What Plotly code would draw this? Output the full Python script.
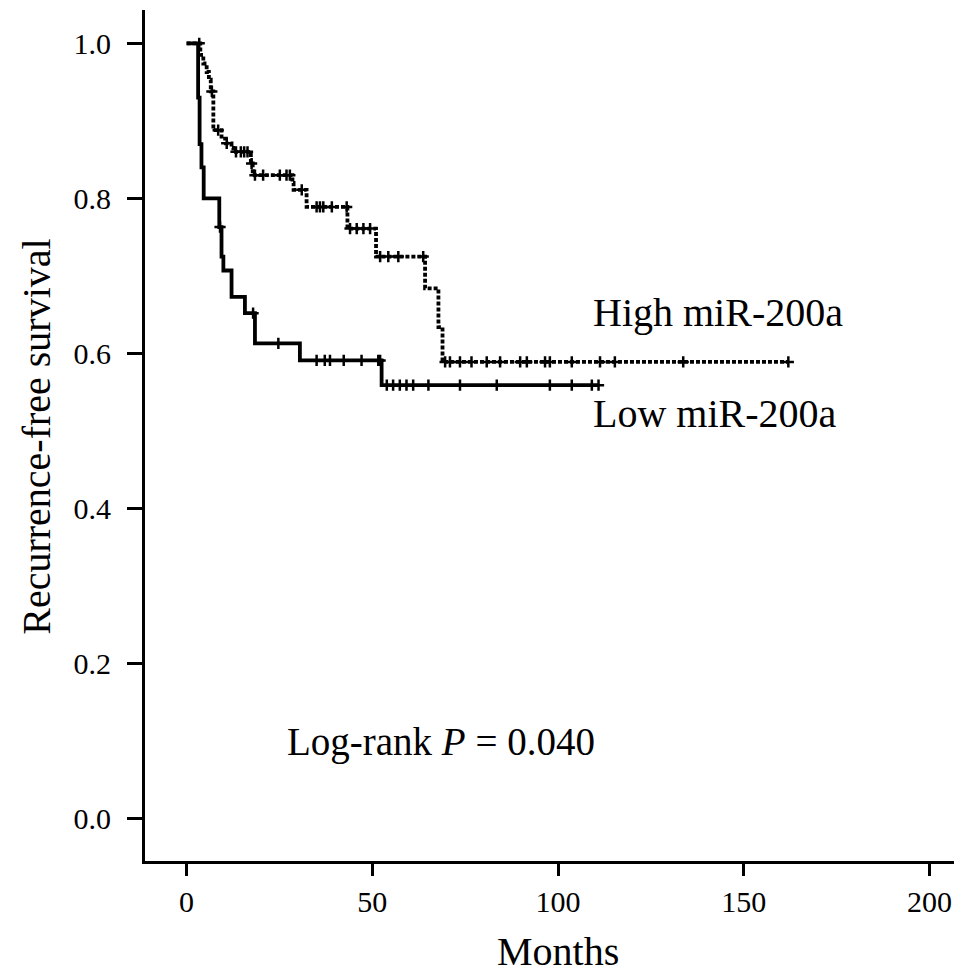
import plotly.graph_objects as go

# ---- data (months, survival) ----
low_event_times = [3.1, 3.5, 4.0, 4.6, 8.8, 9.4, 9.9, 12.1, 15.7, 18.4, 30.5, 52.5]
low_event_surv = [0.93, 0.87, 0.84, 0.80, 0.763, 0.725, 0.707, 0.673, 0.652, 0.613, 0.591, 0.559]
low_censor_times = [9.0, 17.9, 24.7, 35.0, 37.2, 38.6, 42.3, 47.1, 51.6, 52.1, 53.9, 55.6,
                    57.4, 59.2, 61.0, 65.1, 73.6, 83.5, 97.8, 103.7, 109.1, 110.9]

high_event_times = [3.7, 4.5, 5.4, 6.0, 6.5, 7.2, 9.4, 10.6, 12.1, 12.6, 17.3, 17.8, 28.5, 28.8,
                    32.3, 43.3, 51.0, 64.2, 67.8, 68.9]
high_event_surv = [0.985, 0.974, 0.963, 0.953, 0.938, 0.888, 0.877, 0.871, 0.865, 0.860, 0.845,
                   0.830, 0.820, 0.811, 0.789, 0.761, 0.725, 0.684, 0.634, 0.589]
high_censor_times = [3.4, 6.8, 8.5, 10.8, 13.3, 14.6, 15.5, 16.4, 17.5, 18.4, 20.6, 25.1, 26.9,
                     27.8, 31.0, 35.0, 35.9, 36.8, 39.1, 43.1, 44.0, 45.8, 47.6, 49.4, 52.1, 54.3,
                     57.0, 63.7, 69.6, 70.9, 73.6, 76.7, 80.8, 84.4, 89.8, 91.6, 96.5, 97.8, 103.7,
                     111.3, 115.3, 133.7, 162.0]

x_ticks = [0, 50, 100, 150, 200]
y_ticks = [0.0, 0.2, 0.4, 0.6, 0.8, 1.0]

FONT = "Liberation Serif"


def step_path(times, surv, end):
    xs = [0] + list(times) + [end]
    ys = [1.0] + list(surv) + [surv[-1]]
    return xs, ys


def surv_at(t, times, surv):
    s = 1.0
    for tt, ss in zip(times, surv):
        if tt <= t:
            s = ss
    return s


fig = go.Figure()

for times, surv, cens, dash in [
    (high_event_times, high_event_surv, high_censor_times, "4px,2px"),
    (low_event_times, low_event_surv, low_censor_times, "solid"),
]:
    xs, ys = step_path(times, surv, max(cens))
    fig.add_trace(go.Scatter(x=xs, y=ys, mode="lines", line_shape="hv",
                             line=dict(color="black", width=3.8, dash=dash),
                             showlegend=False, hoverinfo="skip"))
    fig.add_trace(go.Scatter(x=cens, y=[surv_at(t, times, surv) for t in cens], mode="markers",
                             marker=dict(symbol="cross-thin-open", size=8, color="black",
                                         line=dict(color="black", width=2.5)),
                             showlegend=False, hoverinfo="skip"))

fig.add_annotation(x=108.8, y=0.653, xref="x", yref="y", text="High miR-200a", showarrow=False,
                   xanchor="left", yanchor="middle", font=dict(family=FONT, size=40, color="black"))
fig.add_annotation(x=108.8, y=0.522, xref="x", yref="y", text="Low miR-200a", showarrow=False,
                   xanchor="left", yanchor="middle", font=dict(family=FONT, size=40, color="black"))
fig.add_annotation(x=26.5, y=0.099, xref="x", yref="y", text="Log-rank <i>P</i> = 0.040",
                   showarrow=False, xanchor="left", yanchor="middle",
                   font=dict(family=FONT, size=39, color="black"))
# axis titles
fig.add_annotation(x=100, y=-0.106, xref="x", yref="paper", text="Months", showarrow=False,
                   xanchor="center", yanchor="middle", font=dict(family=FONT, size=40, color="black"))
fig.add_annotation(x=-0.134, y=0.492, xref="paper", yref="y", text="Recurrence-free survival",
                   showarrow=False, textangle=-90, xanchor="center", yanchor="middle",
                   font=dict(family=FONT, size=40, color="black"))

fig.update_layout(
    width=969, height=978, autosize=False,
    margin=dict(l=145, r=15, t=10, b=117),
    paper_bgcolor="white", plot_bgcolor="white",
    font=dict(family=FONT, color="black"),
    xaxis=dict(range=[-11.2, 206.6], tickvals=x_ticks, ticks="outside", ticklen=12, tickwidth=3,
               tickcolor="black", showline=True, linewidth=3, linecolor="black", showgrid=False,
               zeroline=False, tickfont=dict(family=FONT, size=30, color="black")),
    yaxis=dict(range=[-0.0547, 1.043], tickvals=y_ticks, tickformat=".1f", ticks="outside",
               ticklen=15, tickwidth=3, tickcolor="black", showline=True, linewidth=3,
               linecolor="black", showgrid=False, zeroline=False, ticklabelstandoff=10,
               tickfont=dict(family=FONT, size=30, color="black")),
)

fig.write_html("out.html", config={"displayModeBar": False},
               post_script="document.body.style.margin='0';document.body.style.padding='0';")
